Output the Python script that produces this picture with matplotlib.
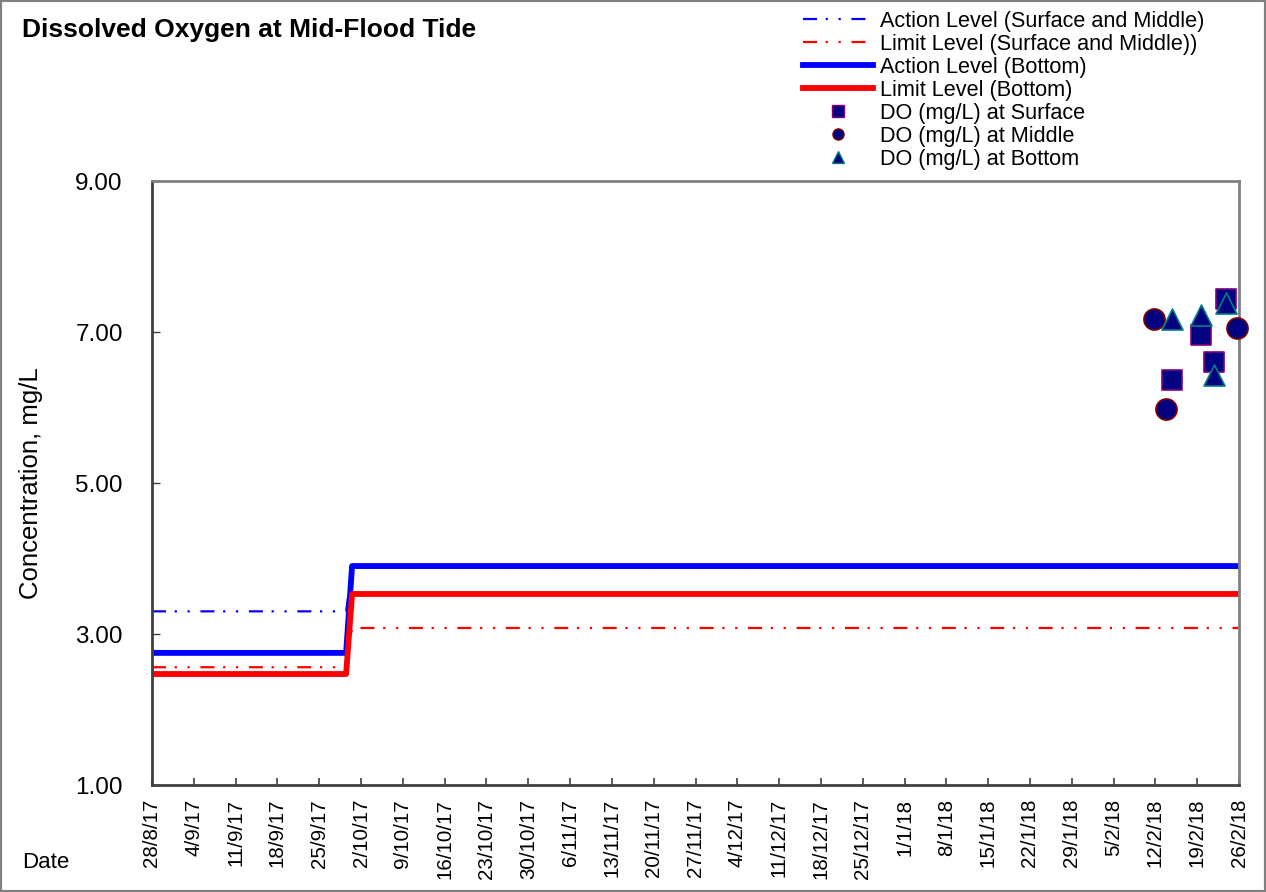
import matplotlib
matplotlib.use("Agg")
import matplotlib.pyplot as plt
from matplotlib.lines import Line2D
from matplotlib.patches import Rectangle
import pandas as pd

# ---- data ----
level_dates = ["2017-08-28 00:00", "2017-09-29 12:00", "2017-09-30 12:00", "2018-02-26 00:00"]
action_sm = [3.30, 3.30, 3.88, 3.88]
limit_sm = [2.56, 2.56, 3.08, 3.08]
action_bot = [2.75, 2.75, 3.90, 3.90]
limit_bot = [2.47, 2.47, 3.53, 3.53]

surface_dates = ["2018-02-14 17:00", "2018-02-19 17:00", "2018-02-21 19:00", "2018-02-23 19:00"]
surface_do = [6.37, 6.96, 6.60, 7.44]
middle_dates = ["2018-02-11 19:00", "2018-02-13 17:00", "2018-02-25 17:00"]
middle_do = [7.17, 5.98, 7.05]
bottom_dates = ["2018-02-14 17:00", "2018-02-19 17:00", "2018-02-21 19:00", "2018-02-23 19:00"]
bottom_do = [7.17, 7.23, 6.43, 7.38]

tick_labels = ["28/8/17", "4/9/17", "11/9/17", "18/9/17", "25/9/17", "2/10/17", "9/10/17",
               "16/10/17", "23/10/17", "30/10/17", "6/11/17", "13/11/17", "20/11/17",
               "27/11/17", "4/12/17", "11/12/17", "18/12/17", "25/12/17", "1/1/18",
               "8/1/18", "15/1/18", "22/1/18", "29/1/18", "5/2/18", "12/2/18",
               "19/2/18", "26/2/18"]
y_ticks = [1.0, 3.0, 5.0, 7.0, 9.0]

plt.rcParams['font.family'] = ['Liberation Sans', 'DejaVu Sans']

fig = plt.figure(figsize=(12.66, 8.92), dpi=100)
ax = fig.add_axes([152/1266, 1-785/892, (1239-152)/1266, (785-181)/892])

DASH = [6.3, 3.9, 1.0, 4.8, 1.0, 4.8]
ld = pd.to_datetime(level_dates)
ax.plot(ld, action_sm, color='#0000FF', lw=1.6, dashes=DASH)
ax.plot(ld, limit_sm, color='#FF0000', lw=1.6, dashes=DASH)
ax.plot(ld, action_bot, color='#0000FF', lw=4.2, solid_capstyle='butt')
ax.plot(ld, limit_bot, color='#FF0000', lw=4.2, solid_capstyle='butt')

ax.scatter(pd.to_datetime(surface_dates), surface_do, marker='s', s=200, facecolor='#000080',
           edgecolor='#800080', linewidth=1.2, zorder=5, clip_on=False)
ax.scatter(pd.to_datetime(middle_dates), middle_do, marker='o', s=230, facecolor='#000080',
           edgecolor='#800000', linewidth=1.2, zorder=6, clip_on=False)
ax.scatter(pd.to_datetime(bottom_dates), bottom_do, marker='^', s=230, facecolor='#000080',
           edgecolor='#008080', linewidth=1.2, zorder=7, clip_on=False)

x0 = pd.Timestamp("2017-08-28")
x1 = pd.Timestamp("2018-02-26")
ax.set_xlim(x0, x1)
ax.set_ylim(1, 9)
tick_pos = pd.date_range(x0, x1, freq='7D')
ax.set_xticks(tick_pos)
ax.set_xticklabels(tick_labels, rotation=90, fontsize=14.8)
ax.set_yticks(y_ticks)
ax.set_yticklabels([f"{v:.2f}" for v in y_ticks], fontsize=17.5)
ax.tick_params(axis='x', direction='in', length=5, width=1.2, color='#404040', pad=10)
ax.tick_params(axis='y', direction='in', length=6, width=1, color='#404040', pad=21)

for side in ['left', 'bottom']:
    ax.spines[side].set_color('#404040')
    ax.spines[side].set_linewidth(2)
for side in ['top', 'right']:
    ax.spines[side].set_color('#808080')
    ax.spines[side].set_linewidth(2)

fig.text(31/1266, 1-483/892, 'Concentration, mg/L', fontsize=18.5, rotation=90,
         va='center', ha='center')
fig.text(22/1266, 1-30/892, 'Dissolved Oxygen at Mid-Flood Tide', fontsize=19, fontweight='bold',
         va='center', ha='left')
fig.text(22/1266, 1-862/892, 'Date', fontsize=16, va='center', ha='left')

handles = [
    Line2D([], [], color='#0000FF', lw=1.6, dashes=DASH),
    Line2D([], [], color='#FF0000', lw=1.6, dashes=DASH),
    Line2D([], [], color='#0000FF', lw=4.2),
    Line2D([], [], color='#FF0000', lw=4.2),
    Line2D([], [], ls='none', marker='s', markersize=8, markerfacecolor='#000080', markeredgecolor='#800080'),
    Line2D([], [], ls='none', marker='o', markersize=8, markerfacecolor='#000080', markeredgecolor='#800000'),
    Line2D([], [], ls='none', marker='^', markersize=8, markerfacecolor='#000080', markeredgecolor='#008080'),
]
labels = ['Action Level (Surface and Middle)', 'Limit Level (Surface and Middle))',
          'Action Level (Bottom)', 'Limit Level (Bottom)',
          'DO (mg/L) at Surface', 'DO (mg/L) at Middle', 'DO (mg/L) at Bottom']
fig.legend(handles, labels, loc='upper left', bbox_to_anchor=(803/1266, 1-11/892), frameon=False,
           fontsize=15.6, handlelength=3.25, handletextpad=0.3, labelspacing=0.09, borderpad=0,
           borderaxespad=0)

fig.patches.append(Rectangle((0, 0), 1, 1, transform=fig.transFigure, fill=False,
                             edgecolor='#808080', linewidth=3, zorder=10))

fig.savefig('out.png', dpi=100)
